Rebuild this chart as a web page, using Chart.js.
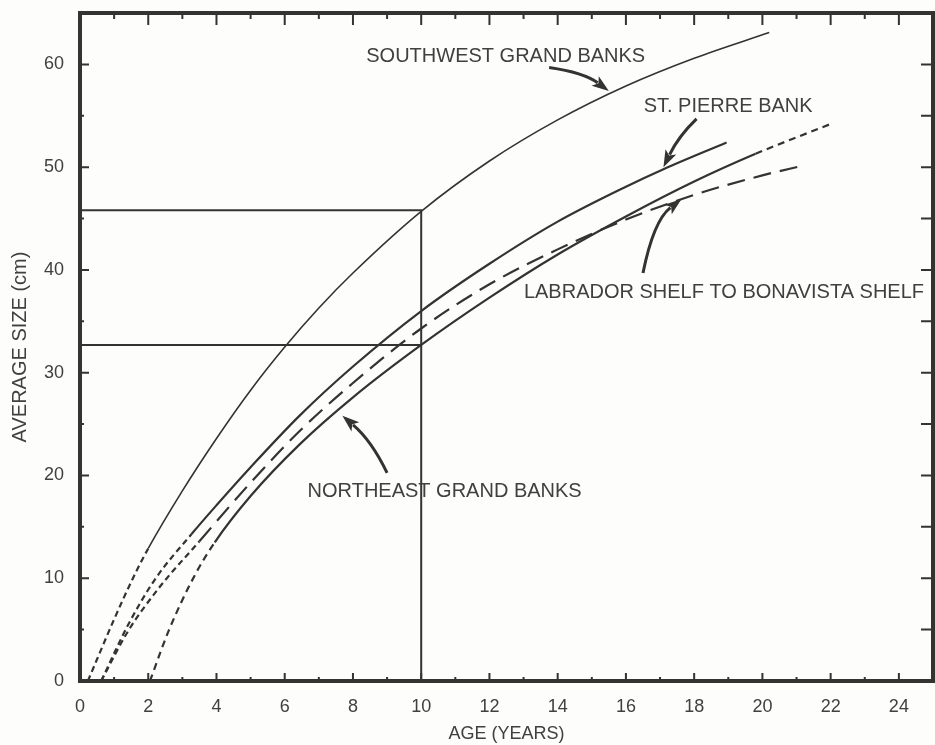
<!DOCTYPE html>
<html>
<head>
<meta charset="utf-8">
<script src="https://cdn.jsdelivr.net/npm/chart.js@4.4.1/dist/chart.umd.min.js"></script>
<style>
    html, body { margin: 0; padding: 0; background: #fdfdfb; overflow: hidden; }
    #wrap { width: 935px; height: 745px; position: relative; }
</style>
</head>
<body>
<div id="wrap"><canvas id="growthChart"></canvas></div>
<script>
// Tick labels
const xTicks = [0, 2, 4, 6, 8, 10, 12, 14, 16, 18, 20, 22, 24];
const yTicks = [0, 10, 20, 30, 40, 50, 60];

// Southwest Grand Banks (solid between swSolid ages, dashed outside)
const swAge  = [0.23, 1.0, 1.58, 2.0, 3.0, 4.0, 5.0, 6.0, 7.0, 8.0, 10.0, 12.0, 14.0, 16.0, 18.0, 20.2];
const swSize = [0, 6.0, 10.2, 12.9, 18.5, 23.6, 28.3, 32.5, 36.3, 39.7, 45.7, 50.6, 54.6, 57.9, 60.6, 63.1];
const swSolid = [2.0, 20.2];

// St. Pierre Bank
const spAge  = [0.62, 1.4, 2.2, 3.27, 4.0, 5.0, 6.43, 8.0, 10.0, 12.0, 14.0, 16.0, 17.1, 18.95];
const spSize = [0, 5.4, 9.9, 14.3, 17.1, 20.8, 25.8, 30.6, 36.0, 40.6, 44.7, 48.1, 49.8, 52.4];
const spSolid = [3.27, 18.95];

// Labrador Shelf to Bonavista Shelf (long dashes, short dashes near origin)
const lbAge  = [0.62, 1.4, 2.3, 3.5, 5.0, 6.43, 8.0, 10.0, 12.0, 14.0, 16.0, 18.0, 20.0, 21.25];
const lbSize = [0, 4.8, 9.0, 13.6, 19.3, 24.3, 29.0, 34.3, 38.6, 42.0, 44.9, 47.3, 49.2, 50.2];
const lbSolid = [3.5, 21.25];

// Northeast Grand Banks
const neAge  = [2.05, 2.6, 3.35, 3.95, 5.0, 6.43, 8.0, 10.0, 12.0, 14.0, 16.0, 18.0, 19.8, 21.0, 22.0];
const neSize = [0, 4.9, 10.2, 13.5, 18.0, 23.0, 27.6, 32.7, 37.3, 41.5, 45.2, 48.6, 51.3, 52.9, 54.2];
const neSolid = [3.95, 19.8];

// Reading lines at age 10
const refHiAge  = [0, 10, 10];
const refHiSize = [45.8, 45.8, 0];
const refLoAge  = [0, 10];
const refLoSize = [32.7, 32.7];

// Curve labels and their arrows (data units)
const labelText = ["SOUTHWEST GRAND BANKS", "ST. PIERRE BANK", "LABRADOR SHELF TO BONAVISTA SHELF", "NORTHEAST GRAND BANKS"];
const labelAge  = [8.39, 16.52, 13.01, 6.67];
const labelSize = [60.2, 55.4, 37.3, 17.9];
const arrowTail = [[13.75, 59.7], [18.07, 54.7], [16.5, 39.7], [9.0, 20.25]];
const arrowBend = [[14.77, 59.2], [17.54, 53.0], [16.81, 44.8], [8.54, 23.4]];
const arrowTip  = [[15.5, 57.4], [17.1, 50.0], [17.63, 46.9], [7.69, 25.8]];

const ink = "#333333";
const textInk = "#404040";
const fontFamily = '"Liberation Sans", Arial, Helvetica, sans-serif';

const pts = (xs, ys) => xs.map((v, i) => ({ x: v, y: ys[i] }));

function curve(xs, ys, solid, width, extWidth, mainDash, extDash) {
    const inSolid = ctx => ctx.p0.parsed.x >= solid[0] - 1e-6 && ctx.p1.parsed.x <= solid[1] + 1e-6;
    return {
        data: pts(xs, ys),
        borderColor: ink,
        borderWidth: width,
        pointRadius: 0,
        fill: false,
        cubicInterpolationMode: "monotone",
        borderDash: mainDash,
        segment: {
            borderDash: ctx => inSolid(ctx) ? mainDash : extDash,
            borderWidth: ctx => inSolid(ctx) ? width : extWidth
        }
    };
}

function refLine(xs, ys) {
    return { data: pts(xs, ys), borderColor: ink, borderWidth: 2, pointRadius: 0, tension: 0, fill: false };
}

// frame, inward ticks, arrows and curve labels
const decorations = {
    id: "decorations",
    afterDatasetsDraw(chart) {
        const { ctx, chartArea: a, scales: { x, y } } = chart;
        ctx.save();
        ctx.strokeStyle = ink;
        ctx.fillStyle = ink;

        ctx.lineWidth = 2;
        ctx.beginPath();
        for (let v = 0; v <= x.max; v++) {
            const px = x.getPixelForValue(v);
            const major = v % 2 === 0;
            ctx.moveTo(px, a.bottom); ctx.lineTo(px, a.bottom - (major ? 8 : 4));
            ctx.moveTo(px, a.top); ctx.lineTo(px, a.top + (major ? 12 : 6));
        }
        for (let v = 0; v <= y.max; v += 5) {
            const py = y.getPixelForValue(v);
            const major = v % 10 === 0;
            ctx.moveTo(a.left, py); ctx.lineTo(a.left + (major ? 9 : 4), py);
            ctx.moveTo(a.right, py); ctx.lineTo(a.right - 12, py);
        }
        ctx.stroke();

        ctx.lineWidth = 4;
        ctx.strokeRect(a.left, a.top, a.right - a.left, a.bottom - a.top);

        // arrows
        arrowTip.forEach((tip, i) => {
            const p0 = { x: x.getPixelForValue(arrowTail[i][0]), y: y.getPixelForValue(arrowTail[i][1]) };
            const c  = { x: x.getPixelForValue(arrowBend[i][0]), y: y.getPixelForValue(arrowBend[i][1]) };
            const p1 = { x: x.getPixelForValue(tip[0]), y: y.getPixelForValue(tip[1]) };
            const ang = Math.atan2(p1.y - c.y, p1.x - c.x);
            const headLen = 17, headW = 6;
            const bx = p1.x - headLen * Math.cos(ang), by = p1.y - headLen * Math.sin(ang);
            ctx.lineWidth = 3;
            ctx.beginPath();
            ctx.moveTo(p0.x, p0.y);
            ctx.quadraticCurveTo(c.x, c.y, bx + 3 * Math.cos(ang), by + 3 * Math.sin(ang));
            ctx.stroke();
            ctx.beginPath();
            ctx.moveTo(p1.x, p1.y);
            ctx.lineTo(bx + headW * Math.sin(ang), by - headW * Math.cos(ang));
            ctx.lineTo(bx + 4 * Math.cos(ang), by + 4 * Math.sin(ang));
            ctx.lineTo(bx - headW * Math.sin(ang), by + headW * Math.cos(ang));
            ctx.closePath();
            ctx.fill();
        });

        // labels
        ctx.fillStyle = textInk;
        ctx.font = "20px " + fontFamily;
        ctx.textAlign = "left";
        ctx.textBaseline = "alphabetic";
        labelText.forEach((t, i) => {
            ctx.fillText(t, x.getPixelForValue(labelAge[i]), y.getPixelForValue(labelSize[i]));
        });
        ctx.restore();
    }
};

const chart = new Chart(document.getElementById("growthChart").getContext("2d"), {
    type: "line",
    data: {
        datasets: [
            refLine(refHiAge, refHiSize),
            refLine(refLoAge, refLoSize),
            curve(swAge, swSize, swSolid, 1.6, 2.2, [], [6, 4]),
            curve(spAge, spSize, spSolid, 2.2, 2.2, [], [6, 4]),
            curve(lbAge, lbSize, lbSolid, 2.2, 2.2, [18, 9], [6, 4]),
            curve(neAge, neSize, neSolid, 2.2, 2.2, [], [7, 5])
        ]
    },
    options: {
        responsive: true,
        maintainAspectRatio: false,
        animation: false,
        devicePixelRatio: 1,
        layout: { padding: { top: 13, right: 2, left: 0, bottom: 0 } },
        plugins: { legend: { display: false }, tooltip: { enabled: false } },
        scales: {
            x: {
                type: "linear",
                min: 0,
                max: 25,
                afterBuildTicks: s => { s.ticks = xTicks.map(v => ({ value: v })); },
                afterFit: s => { s.height = 64; s.paddingLeft = 0; s.paddingRight = 0; },
                grid: { display: false, drawTicks: false },
                border: { display: false },
                ticks: { padding: 15, color: textInk, font: { family: fontFamily, size: 18 } },
                title: { display: true, text: "AGE (YEARS)", color: textInk, padding: { top: 0, bottom: 0 },
                         font: { family: fontFamily, size: 18 } }
            },
            y: {
                type: "linear",
                min: 0,
                max: 65,
                afterBuildTicks: s => { s.ticks = yTicks.map(v => ({ value: v })); },
                afterFit: s => { s.width = 80; s.paddingTop = 0; s.paddingBottom = 0; },
                grid: { display: false, drawTicks: false },
                border: { display: false },
                ticks: { padding: 16, color: textInk, font: { family: fontFamily, size: 18 } },
                title: { display: true, text: "AVERAGE SIZE (cm)", color: textInk, padding: { top: 8, bottom: 0 },
                         font: { family: fontFamily, size: 20 } }
            }
        }
    },
    plugins: [decorations]
});
</script>
</body>
</html>
